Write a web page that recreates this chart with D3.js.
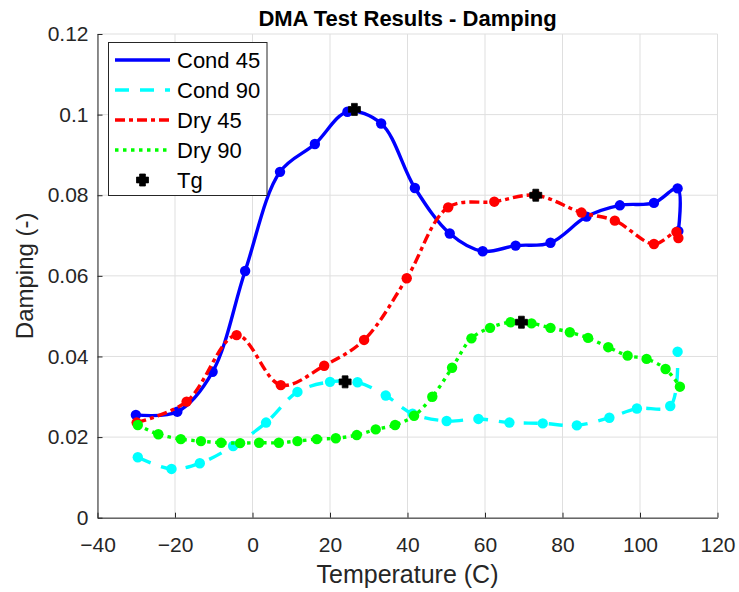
<!DOCTYPE html>
<html>
<head>
<meta charset="utf-8">
<script src="https://cdn.jsdelivr.net/npm/d3@7"></script>
<style>
  html, body { margin: 0; padding: 0; background: #fff; }
  svg { display: block; font-family: "Liberation Sans", Arial, Helvetica, sans-serif; }
</style>
</head>
<body>
<svg id="chart" width="739" height="592"></svg>
<script>
// ---- Data ----
const xTicks = [-40, -20, 0, 20, 40, 60, 80, 100, 120];
const yTicks = [0, 0.02, 0.04, 0.06, 0.08, 0.1, 0.12];
const yTickLabels = ["0", "0.02", "0.04", "0.06", "0.08", "0.1", "0.12"];

const cond45T = [-30.1, -19.4, -10.3, -1.9, 7.1, 16.1, 24.5, 33.2, 41.9, 50.9, 59.4, 67.9, 76.9, 86.2, 94.8, 103.6, 109.7, 109.9];
const cond45D = [0.0255, 0.0263, 0.0362, 0.0612, 0.0858, 0.0927, 0.1007, 0.0978, 0.0818, 0.0705, 0.0661, 0.0675, 0.0682, 0.0747, 0.0775, 0.0781, 0.0817, 0.0711];

const cond90T = [-29.6, -20.9, -13.6, -5.0, 3.5, 11.6, 20.0, 27.1, 34.4, 41.3, 50.1, 58.3, 66.3, 74.9, 83.7, 92.1, 99.2, 107.8, 109.7];
const cond90D = [0.0150, 0.0121, 0.0135, 0.0178, 0.0236, 0.0312, 0.0337, 0.0336, 0.0303, 0.0258, 0.0240, 0.0245, 0.0236, 0.0234, 0.0229, 0.0248, 0.0271, 0.0277, 0.0412];

const dry45T = [-29.9, -17.0, -4.1, 7.3, 18.5, 28.8, 39.8, 50.5, 62.4, 73.1, 84.9, 93.5, 103.6, 109.4, 109.9];
const dry45D = [0.0236, 0.0288, 0.0453, 0.0329, 0.0377, 0.0441, 0.0594, 0.0770, 0.0784, 0.0800, 0.0757, 0.0737, 0.0679, 0.0709, 0.0694];

const dry90T = [-29.6, -24.3, -18.5, -13.3, -8.1, -3.2, 1.7, 6.8, 11.6, 16.6, 21.5, 26.9, 31.8, 36.8, 41.7, 46.4, 51.5, 56.5, 61.3, 66.6, 72.0, 76.9, 81.9, 86.6, 91.8, 96.8, 101.7, 106.6, 110.3];
const dry90D = [0.0230, 0.0207, 0.0195, 0.0190, 0.0186, 0.0185, 0.0186, 0.0186, 0.0190, 0.0195, 0.0197, 0.0205, 0.0219, 0.0230, 0.0253, 0.0300, 0.0372, 0.0445, 0.0471, 0.0485, 0.0482, 0.0471, 0.0460, 0.0446, 0.0423, 0.0402, 0.0394, 0.0369, 0.0325];

const tgT = [26.3, 23.9, 73.1, 69.4];
const tgD = [0.1013, 0.0337, 0.0800, 0.0485];

const seriesNames = ["Cond 45", "Cond 90", "Dry 45", "Dry 90", "Tg"];
const seriesColors = ["#0000ff", "#00ffff", "#ff0000", "#00ff00", "#000000"];
const seriesDash = [null, "14,11", "10,4,4,4", "3.5,4.5", null];

// ---- Layout ----
const svg = d3.select("#chart");
const margin = { left: 97.5, right: 739 - 717.5, top: 34, bottom: 592 - 517.7 };
const W = 739, H = 592;
const x = d3.scaleLinear().domain([-40, 120]).range([margin.left, W - margin.right]);
const y = d3.scaleLinear().domain([0, 0.12]).range([H - margin.bottom, margin.top]);
const axisColor = "#262626";

// grid
const grid = svg.append("g");
grid.selectAll("line.vx").data(xTicks).join("line")
  .attr("x1", d => x(d)).attr("x2", d => x(d))
  .attr("y1", y(0)).attr("y2", y(0.12))
  .attr("stroke", "#dfdfdf").attr("stroke-width", 1);
grid.selectAll("line.hy").data(yTicks).join("line")
  .attr("y1", d => y(d)).attr("y2", d => y(d))
  .attr("x1", x(-40)).attr("x2", x(120))
  .attr("stroke", "#dfdfdf").attr("stroke-width", 1);

// axes
const xAxis = d3.axisBottom(x).tickValues(xTicks).tickSizeInner(-5).tickSizeOuter(0).tickPadding(19);
const yAxis = d3.axisLeft(y).tickValues(yTicks).tickFormat((d, i) => yTickLabels[i]).tickSizeInner(-5).tickSizeOuter(0).tickPadding(14);

const gx = svg.append("g").attr("transform", `translate(0,${y(0)})`).call(xAxis);
const gy = svg.append("g").attr("transform", `translate(${x(-40)},0)`).call(yAxis);
[gx, gy].forEach(g => {
  g.select(".domain").attr("stroke", axisColor).attr("stroke-width", 1);
  g.selectAll(".tick line").attr("stroke", axisColor);
  g.selectAll(".tick text").attr("fill", axisColor).attr("font-size", 21)
    .attr("font-family", "'Liberation Sans', Arial, sans-serif");
});
gx.selectAll(".tick text").attr("dy", "0.71em");
gy.selectAll(".tick text").attr("dx", "5");

// series
const line = d3.line().x(d => x(d[0])).y(d => y(d[1])).curve(d3.curveCatmullRom.alpha(0.5));
const allT = [cond45T, cond90T, dry45T, dry90T];
const allD = [cond45D, cond90D, dry45D, dry90D];
const plot = svg.append("g");
allT.forEach((T, i) => {
  const pts = T.map((t, k) => [t, allD[i][k]]);
  const g = plot.append("g");
  g.append("path").attr("d", line(pts)).attr("fill", "none")
    .attr("stroke", seriesColors[i]).attr("stroke-width", 3.4)
    .attr("stroke-dasharray", seriesDash[i]);
  g.selectAll("circle").data(pts).join("circle")
    .attr("cx", d => x(d[0])).attr("cy", d => y(d[1])).attr("r", 5.2)
    .attr("fill", seriesColors[i]);
});
// Tg markers: thick filled plus
const plusPath = (() => {
  const e = 6, a = 2.9;
  return `M${-a},${-e}H${a}V${-a}H${e}V${a}H${a}V${e}H${-a}V${a}H${-e}V${-a}H${-a}Z`;
})();
const tgPts = tgT.map((t, k) => [t, tgD[k]]);
plot.selectAll("path.tg").data(tgPts).join("path").attr("class", "tg")
  .attr("d", plusPath).attr("transform", d => `translate(${x(d[0])},${y(d[1])})`)
  .attr("fill", "#000").attr("stroke", "#000").attr("stroke-width", 0.8).attr("stroke-linejoin", "round");

// title & labels
svg.append("text").attr("x", (x(-40) + x(120)) / 2).attr("y", 26)
  .attr("text-anchor", "middle").attr("font-size", 22).attr("font-weight", "bold")
  .attr("fill", "#000").text("DMA Test Results - Damping");
svg.append("text").attr("x", (x(-40) + x(120)) / 2).attr("y", 583)
  .attr("text-anchor", "middle").attr("font-size", 25).attr("fill", axisColor)
  .text("Temperature (C)");
svg.append("text").attr("transform", `translate(33,${(y(0) + y(0.12)) / 2}) rotate(-90)`)
  .attr("text-anchor", "middle").attr("font-size", 24).attr("fill", axisColor)
  .text("Damping (-)");

// legend
const lg = svg.append("g");
lg.append("rect").attr("x", 108.5).attr("y", 42.5).attr("width", 158.5).attr("height", 153)
  .attr("fill", "#fff").attr("stroke", axisColor).attr("stroke-width", 1);
seriesNames.forEach((name, i) => {
  const cy = 60 + i * 30;
  if (i < 4) {
    lg.append("line").attr("x1", 115).attr("x2", 170).attr("y1", cy).attr("y2", cy)
      .attr("stroke", seriesColors[i]).attr("stroke-width", 3.4)
      .attr("stroke-dasharray", seriesDash[i]);
  } else {
    lg.append("path").attr("d", plusPath).attr("transform", `translate(142.5,${cy})`)
      .attr("fill", "#000").attr("stroke", "#000").attr("stroke-width", 0.8).attr("stroke-linejoin", "round");
  }
  lg.append("text").attr("x", 177).attr("y", cy).attr("dy", "0.36em")
    .attr("font-size", 22).attr("fill", "#000").text(name);
});
</script>
</body>
</html>
